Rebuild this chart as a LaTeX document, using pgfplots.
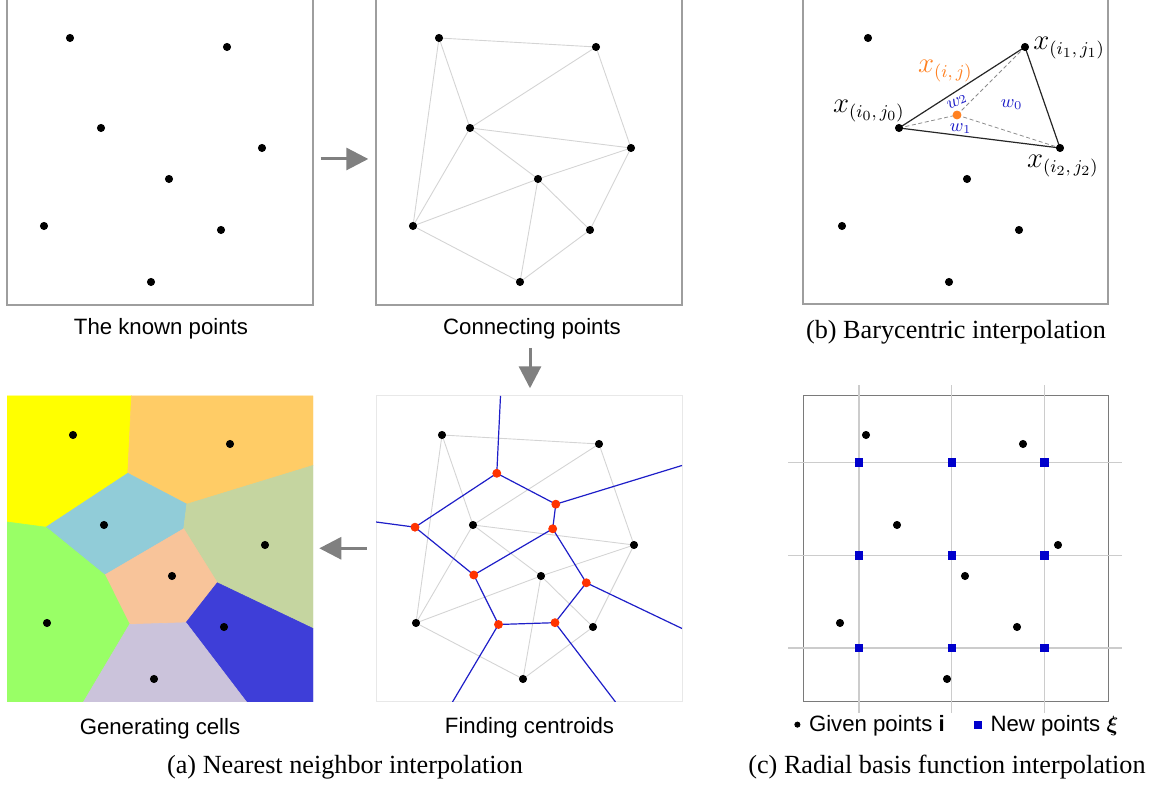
\documentclass[border=0pt]{standalone}
\usepackage{amsmath}
\usepackage[no-math]{fontspec}
\setmainfont{Liberation Serif}
\setsansfont{Liberation Sans}
\usepackage{pgfplots}
\usepackage{pgfplotstable}
\pgfplotsset{compat=1.18}
\usetikzlibrary{arrows.meta}

% scattered sample points (shared by all panels)
\pgfplotstableread{
x y
63 267
220 258
94 177
255 157
162 126
37 79
214 75
144 23
}\pts

% Voronoi vertices (centroids of the triangulation)
\pgfplotstableread{
x y
117.8 228.7
176.8 197.8
173.7 173.2
36 174.8
94.8 127
207.3 119.2
119.5 77.5
176 79.3
}\vtx

% regular grid of new points
\pgfplotstableread{
x y
56 54
148.7 54
241.4 54
56 146.6
148.7 146.6
241.4 146.6
56 239.6
148.7 239.6
241.4 239.6
}\grid

\definecolor{cYellow}{RGB}{255,255,0}
\definecolor{cOrange}{RGB}{255,204,102}
\definecolor{cCyan}{RGB}{145,204,216}
\definecolor{cOlive}{RGB}{197,213,160}
\definecolor{cPeach}{RGB}{248,196,154}
\definecolor{cGreen}{RGB}{153,255,102}
\definecolor{cBlue}{RGB}{62,62,216}
\definecolor{cLilac}{RGB}{203,195,219}
\definecolor{vblue}{RGB}{30,30,200}
\definecolor{vred}{RGB}{255,51,0}
\definecolor{ptorange}{RGB}{255,128,32}
\definecolor{sqblue}{RGB}{0,0,204}
\definecolor{wblue}{RGB}{30,30,200}
\definecolor{arrowgray}{RGB}{128,128,128}

\pgfplotsset{
  panel/.style={scale only axis, width=153pt, height=153pt,
    xmin=0, xmax=306, ymin=0, ymax=306, xtick=\empty, ytick=\empty,
    axis line style={draw=black!38, line width=0.6pt}, anchor=south west},
  known/.style={only marks, mark=*, mark size=1.8pt, black},
  delaunay/.style={draw=black!17, line width=0.45pt, mark=none},
  voronoi/.style={draw=vblue, line width=0.6pt, mark=none},
  cell/.style={fill=#1, draw=#1, line width=0.3pt, mark=none},
}

\newcommand{\capsans}{\sffamily\fontsize{11.1}{13}\selectfont}
\newcommand{\capserif}{\rmfamily\fontsize{13.1}{15}\selectfont}
\newcommand{\mathlab}{\fontsize{13.5}{16}\selectfont}
\newcommand{\wlab}{\fontsize{9}{11}\selectfont}

\begin{document}
\begin{tikzpicture}

% ---------- The known points ----------
\begin{axis}[panel, at={(3.5pt,240pt)}]
  \addplot[known] table {\pts};
\end{axis}

% ---------- Connecting points (Delaunay) ----------
\begin{axis}[panel, at={(188pt,240pt)}]
  \addplot[delaunay] coordinates {(37,79) (63,267) (220,258) (255,157) (214,75) (144,23) (37,79)};
  \addplot[delaunay] coordinates {(63,267) (94,177) (220,258)};
  \addplot[delaunay] coordinates {(37,79) (94,177) (255,157) (162,126) (37,79)};
  \addplot[delaunay] coordinates {(144,23) (162,126) (94,177)};
  \addplot[delaunay] coordinates {(162,126) (214,75)};
  \addplot[known] table {\pts};
\end{axis}

% ---------- Barycentric interpolation ----------
\begin{axis}[panel, width=152.5pt, xmin=-2, xmax=303, ymin=1, ymax=307, at={(401.5pt,240.5pt)}]
  \addplot[black!85, line width=0.6pt, mark=none] coordinates {(94,177) (220,258) (255,157)} -- cycle;
  \addplot[black!45, line width=0.4pt, dash pattern=on 2pt off 1.3pt, mark=none] coordinates {(94,177) (152,190) (220,258)};
  \addplot[black!45, line width=0.4pt, dash pattern=on 2pt off 1.3pt, mark=none] coordinates {(152,190) (255,157)};
  \addplot[known] table {\pts};
  \addplot[only marks, mark=*, mark size=2pt, color=ptorange] coordinates {(152,190)};
\end{axis}

% ---------- Generating cells ----------
\begin{axis}[panel, xmin=-3, xmax=303, at={(3.5pt,41.5pt)}, axis line style={draw=none}]
  \addplot[cell=cYellow] coordinates {(-3,306) (121.5,306) (117.8,228.7) (36,174.8) (-3,180)} -- cycle;
  \addplot[cell=cOrange] coordinates {(121.5,306) (303,306) (303,236.5) (176.8,197.8) (117.8,228.7)} -- cycle;
  \addplot[cell=cCyan] coordinates {(117.8,228.7) (176.8,197.8) (173.7,173.2) (94.8,127) (36,174.8)} -- cycle;
  \addplot[cell=cOlive] coordinates {(176.8,197.8) (303,236.5) (303,73.5) (207.3,119.2) (173.7,173.2)} -- cycle;
  \addplot[cell=cPeach] coordinates {(173.7,173.2) (207.3,119.2) (176,79.3) (119.5,77.5) (94.8,127)} -- cycle;
  \addplot[cell=cGreen] coordinates {(-3,180) (36,174.8) (94.8,127) (119.5,77.5) (73.5,0) (-3,0)} -- cycle;
  \addplot[cell=cBlue] coordinates {(207.3,119.2) (303,73.5) (303,0) (236.5,0) (176,79.3)} -- cycle;
  \addplot[cell=cLilac] coordinates {(119.5,77.5) (176,79.3) (236.5,0) (73.5,0)} -- cycle;
  \addplot[known] table {\pts};
\end{axis}

% ---------- Finding centroids ----------
\begin{axis}[panel, xmin=-3, xmax=303, at={(188pt,41.5pt)}, axis line style={draw=black!9, line width=0.5pt}]
  \addplot[delaunay] coordinates {(37,79) (63,267) (220,258) (255,157) (214,75) (144,23) (37,79)};
  \addplot[delaunay] coordinates {(63,267) (94,177) (220,258)};
  \addplot[delaunay] coordinates {(37,79) (94,177) (255,157) (162,126) (37,79)};
  \addplot[delaunay] coordinates {(144,23) (162,126) (94,177)};
  \addplot[delaunay] coordinates {(162,126) (214,75)};
  \addplot[voronoi] coordinates {(-3,180) (36,174.8) (94.8,127) (119.5,77.5) (73.5,0)};
  \addplot[voronoi] coordinates {(121.5,306) (117.8,228.7) (36,174.8)};
  \addplot[voronoi] coordinates {(117.8,228.7) (176.8,197.8) (303,236.5)};
  \addplot[voronoi] coordinates {(176.8,197.8) (173.7,173.2) (207.3,119.2) (303,73.5)};
  \addplot[voronoi] coordinates {(173.7,173.2) (94.8,127)};
  \addplot[voronoi] coordinates {(119.5,77.5) (176,79.3) (236.5,0)};
  \addplot[voronoi] coordinates {(176,79.3) (207.3,119.2)};
  \addplot[only marks, mark=*, mark size=2pt, color=vred] table {\vtx};
  \addplot[known] table {\pts};
\end{axis}

% ---------- Radial basis function interpolation ----------
\begin{axis}[panel, width=152.5pt, xmax=305, at={(401.5pt,41.5pt)}, clip=false,
    axis line style={draw=black!52, line width=0.5pt},
    legend style={at={(0.51,-0.074)}, anchor=center, draw=none, fill=none,
      legend columns=2, font=\capsans, inner sep=0pt,
      /tikz/every odd column/.append style={column sep=2.5pt},
      /tikz/every even column/.append style={column sep=13pt}},
    legend cell align=left]
  \addplot[black!20, line width=0.6pt, forget plot] coordinates {(56,-10.7) (56,317.3)};
  \addplot[black!20, line width=0.6pt, forget plot] coordinates {(148.7,-10.7) (148.7,317.3)};
  \addplot[black!20, line width=0.6pt, forget plot] coordinates {(241.4,-10.7) (241.4,317.3)};
  \addplot[black!20, line width=0.6pt, forget plot] coordinates {(-15,54) (318.7,54)};
  \addplot[black!20, line width=0.6pt, forget plot] coordinates {(-15,146.6) (318.7,146.6)};
  \addplot[black!20, line width=0.6pt, forget plot] coordinates {(-15,239.6) (318.7,239.6)};
  \addplot[known, forget plot] table {\pts};
  \addplot[only marks, mark=square*, mark size=1.8pt, color=sqblue, forget plot] table {\grid};
  \addlegendimage{only marks, mark=*, mark size=1.3pt, black}
  \addlegendentry{Given points \textbf{i}}
  \addlegendimage{only marks, mark=square*, mark size=1.7pt, sqblue}
  \addlegendentry{New points $\boldsymbol{\xi}$}
\end{axis}

% ---------- labels, captions and arrows ----------
\begin{scope}[x=0.5pt, y=0.5pt]
  \node[anchor=base west, inner sep=0pt, text=black] at (1033,735) {\mathlab $x_{(i_1,\,j_1)}$};
  \node[anchor=base west, inner sep=0pt, text=black] at (832.7,672) {\mathlab $x_{(i_0,\,j_0)}$};
  \node[anchor=base west, inner sep=0pt, text=black] at (1026.7,617) {\mathlab $x_{(i_2,\,j_2)}$};
  \node[anchor=base west, inner sep=0pt, text=ptorange] at (917.7,712) {\mathlab $x_{(i,\,j)}$};
  \node[inner sep=0pt, text=wblue] at (1011.7,680) {\wlab $w_0$};
  \node[inner sep=0pt, text=wblue] at (960.7,656.7) {\wlab $w_1$};
  \node[inner sep=0pt, text=wblue, rotate=22] at (956.7,683.3) {\wlab $w\mkern-1mu{\scriptstyle 2}$};

  \node[anchor=base, inner sep=0pt] at (161,450) {\capsans The known points};
  \node[anchor=base, inner sep=0pt] at (532,450) {\capsans Connecting points};
  \node[anchor=base, inner sep=0pt] at (956,446) {\capserif (b) Barycentric interpolation};
  \node[anchor=base, inner sep=0pt] at (160,50.7) {\capsans Generating cells};
  \node[anchor=base, inner sep=0pt] at (529.5,51.7) {\capsans Finding centroids};
  \node[anchor=base, inner sep=0pt] at (345,11.7) {\capserif (a) Nearest neighbor interpolation};
  \node[anchor=base, inner sep=0pt] at (947,11.7) {\capserif (c) Radial basis function interpolation};

  \draw[arrowgray, line width=1.5pt, -{Triangle[length=11pt, width=11pt]}] (320.7,626) -- (368.3,626);
  \draw[arrowgray, line width=1.5pt, -{Triangle[length=11pt, width=11pt]}] (530,437) -- (530,396.7);
  \draw[arrowgray, line width=1.5pt, -{Triangle[length=11pt, width=11pt]}] (366.7,236.7) -- (319.3,236.7);
\end{scope}

\pgfresetboundingbox
\path[use as bounding box] (0,0) rectangle (576.5pt,392.5pt);
\end{tikzpicture}
\end{document}
